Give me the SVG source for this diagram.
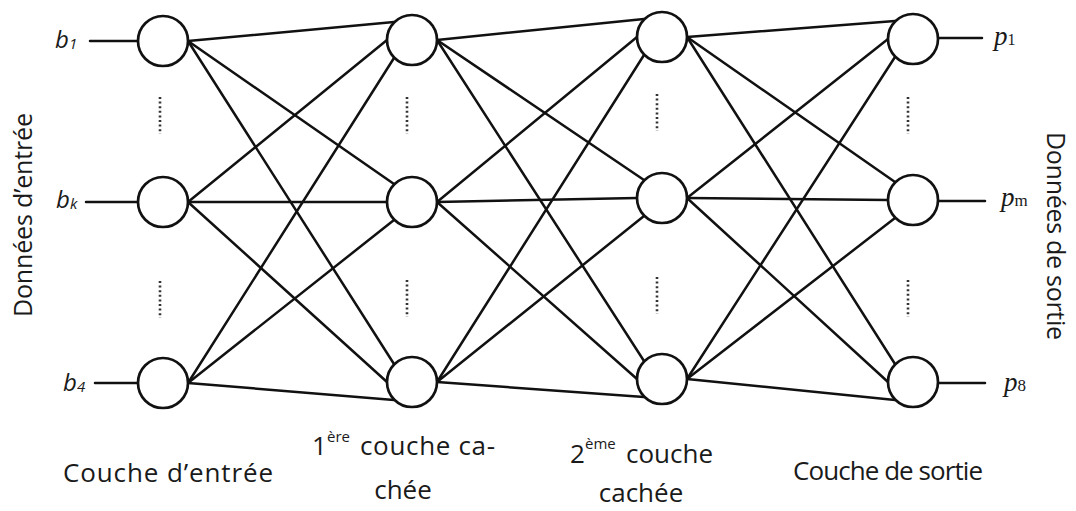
<svg xmlns="http://www.w3.org/2000/svg" width="1076" height="511" viewBox="0 0 1076 511">
<style>
.c{fill:#fff;stroke:#111;stroke-width:2.7}
.e line{stroke:#111;stroke-width:2.5;stroke-linecap:round}
.d{stroke:#333;stroke-width:2.6;stroke-dasharray:2 2.6}
.lab{font-family:"Open Sans",Lato,"Liberation Sans",sans-serif;fill:#1a1a1a}
.bl{font-family:"Open Sans",Lato,"Liberation Sans",sans-serif;font-style:italic;fill:#1a1a1a;font-size:24px}
.pl{font-family:"Liberation Serif",serif;fill:#1a1a1a;font-size:27px}
</style>
<rect width="1076" height="511" fill="#fff"/>
<g id="connectors" class="e">
<line x1="90" y1="41" x2="138" y2="41"/>
<line x1="86" y1="202" x2="138" y2="202"/>
<line x1="95" y1="383" x2="138" y2="383"/>
<line x1="188" y1="41" x2="394" y2="22"/>
<line x1="188" y1="41" x2="394" y2="184"/>
<line x1="188" y1="41" x2="394" y2="364"/>
<line x1="188" y1="202" x2="387" y2="40"/>
<line x1="188" y1="202" x2="387" y2="202"/>
<line x1="188" y1="202" x2="387" y2="382"/>
<line x1="188" y1="383" x2="394" y2="58"/>
<line x1="188" y1="383" x2="394" y2="220"/>
<line x1="188" y1="383" x2="394" y2="400"/>
<line x1="437" y1="40" x2="644" y2="19"/>
<line x1="437" y1="40" x2="644" y2="180"/>
<line x1="437" y1="40" x2="644" y2="361"/>
<line x1="437" y1="202" x2="637" y2="37"/>
<line x1="437" y1="202" x2="637" y2="198"/>
<line x1="437" y1="202" x2="637" y2="379"/>
<line x1="437" y1="382" x2="644" y2="55"/>
<line x1="437" y1="382" x2="644" y2="216"/>
<line x1="437" y1="382" x2="644" y2="397"/>
<line x1="687" y1="37" x2="895" y2="21"/>
<line x1="687" y1="37" x2="895" y2="182"/>
<line x1="687" y1="37" x2="895" y2="364"/>
<line x1="687" y1="198" x2="888" y2="39"/>
<line x1="687" y1="198" x2="888" y2="200"/>
<line x1="687" y1="198" x2="888" y2="382"/>
<line x1="687" y1="379" x2="895" y2="57"/>
<line x1="687" y1="379" x2="895" y2="218"/>
<line x1="687" y1="379" x2="895" y2="400"/>
<line x1="938" y1="38" x2="982" y2="38"/>
<line x1="938" y1="201" x2="985" y2="201"/>
<line x1="938" y1="383" x2="985" y2="383"/>
</g>
<g id="dots">
<line class="d" x1="160" y1="97" x2="160" y2="134"/>
<line class="d" x1="160" y1="281" x2="160" y2="318"/>
<line class="d" x1="407" y1="97" x2="407" y2="134"/>
<line class="d" x1="407" y1="280" x2="407" y2="317"/>
<line class="d" x1="657" y1="94" x2="657" y2="131"/>
<line class="d" x1="657" y1="277" x2="657" y2="314"/>
<line class="d" x1="908" y1="97" x2="908" y2="134"/>
<line class="d" x1="908" y1="280" x2="908" y2="317"/>
</g>
<g id="in1"><circle class="c" cx="163" cy="41" r="25"/></g>
<g id="ink"><circle class="c" cx="163" cy="202" r="25"/></g>
<g id="in4"><circle class="c" cx="163" cy="383" r="25"/></g>
<g id="h1a"><circle class="c" cx="412" cy="40" r="25"/></g>
<g id="h1b"><circle class="c" cx="412" cy="202" r="25"/></g>
<g id="h1c"><circle class="c" cx="412" cy="382" r="25"/></g>
<g id="h2a"><circle class="c" cx="662" cy="37" r="25"/></g>
<g id="h2b"><circle class="c" cx="662" cy="198" r="25"/></g>
<g id="h2c"><circle class="c" cx="662" cy="379" r="25"/></g>
<g id="out1"><circle class="c" cx="913" cy="39" r="25"/></g>
<g id="outm"><circle class="c" cx="913" cy="200" r="25"/></g>
<g id="out8"><circle class="c" cx="913" cy="382" r="25"/></g>
<g id="inputs">
<text class="bl" x="55" y="48">b<tspan font-size="15" dy="1">1</tspan></text>
<text class="bl" x="56" y="208">b<tspan font-size="15" dy="1">k</tspan></text>
<text class="bl" x="63" y="391">b<tspan font-size="15" dy="1">4</tspan></text>
</g>
<g id="outputs">
<text class="pl" x="994" y="45"><tspan font-style="italic">p</tspan><tspan font-size="16">1</tspan></text>
<text class="pl" x="1001" y="206"><tspan font-style="italic">p</tspan><tspan font-size="17">m</tspan></text>
<text class="pl" x="1004" y="391"><tspan font-style="italic">p</tspan><tspan font-size="17">8</tspan></text>
</g>
<g id="sidelabels">
<text class="lab" font-size="25" text-anchor="middle" textLength="204" transform="translate(32,215) rotate(-90)">Données d’entrée</text>
<text class="lab" font-size="25" text-anchor="middle" textLength="208" transform="translate(1047,236) rotate(90)">Données de sortie</text>
</g>
<g id="layerlabels">
<text class="lab" font-size="26" x="168" y="482" text-anchor="middle" textLength="210">Couche d’entrée</text>
<text class="lab" font-size="26" x="312" y="455">1<tspan font-size="15" x="327" dy="-13">ère</tspan><tspan x="360" dy="13" textLength="135">couche ca-</tspan></text>
<text class="lab" font-size="26" x="403" y="499" text-anchor="middle">chée</text>
<text class="lab" font-size="26" x="570" y="463">2<tspan font-size="15" x="585" dy="-14">ème</tspan><tspan x="626" dy="14" textLength="87">couche</tspan></text>
<text class="lab" font-size="26" x="641" y="502" text-anchor="middle">cachée</text>
<text class="lab" font-size="26" x="888" y="480" text-anchor="middle" textLength="190">Couche de sortie</text>
</g>
</svg>
